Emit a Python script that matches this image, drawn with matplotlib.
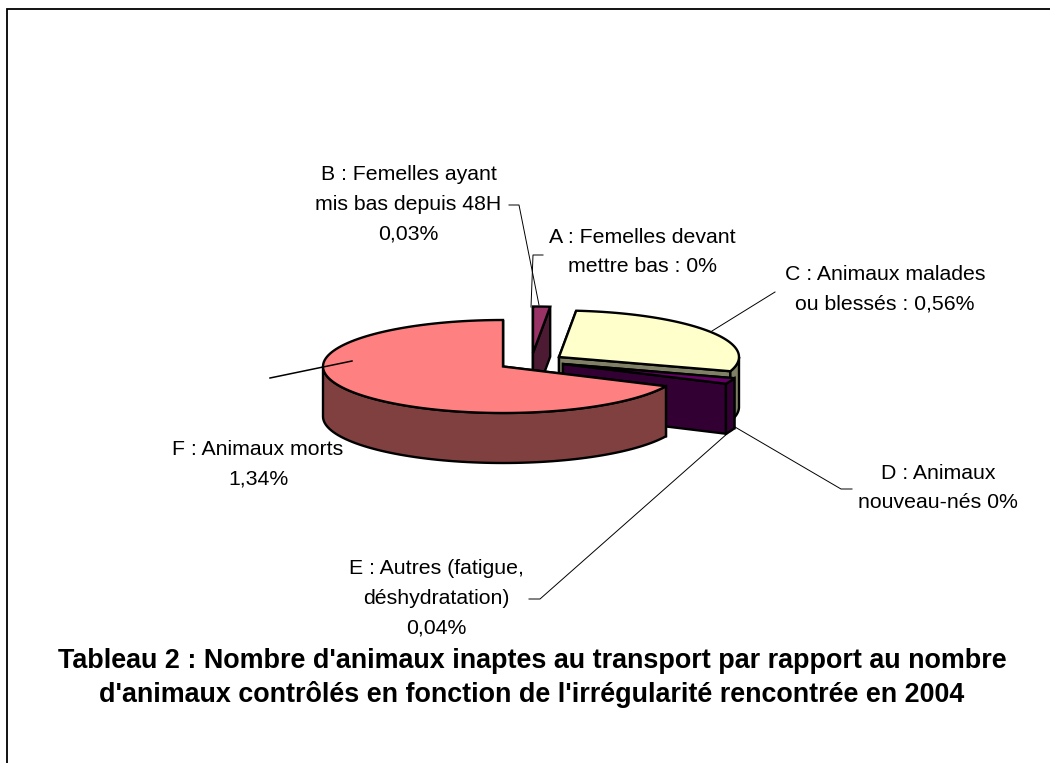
import numpy as np
import matplotlib
matplotlib.use('Agg')
import matplotlib.pyplot as plt

plt.rcParams['font.family'] = ['Liberation Sans', 'DejaVu Sans']

# valeurs en % (dans l'ordre du camembert, sens horaire depuis midi)
categories = ['A', 'B', 'C', 'D', 'E', 'F']
values = [0, 0.03, 0.56, 0, 0.04, 1.34]
top_colors = ['#9999ff', '#993366', '#ffffcc', '#ccffff', '#660066', '#ff8080']
wall_colors = ['#4d4d80', '#4d1a33', '#808066', '#668080', '#330033', '#804040']

# position du centre de chaque part (parts eclatees), en pixels
centers = {'B': (533, 353), 'C': (559, 357), 'E': (563, 364), 'F': (503, 366.5)}
RX = 180
RY = 46.5
DEPTH = 50
LW = 1.7

labels = [
    ('B : Femelles ayant\nmis bas depuis 48H\n0,03%', 408.5, 204),
    ('A : Femelles devant\nmettre bas : 0%', 642, 252),
    ('C : Animaux malades\nou blessés : 0,56%', 885, 289),
    ('D : Animaux\nnouveau-nés 0%', 938, 488),
    ('E : Autres (fatigue,\ndéshydratation)\n0,04%', 436, 598),
    ('F : Animaux morts\n1,34%', 258, 464),
]

# traits de rappel : x, y, epaisseur
leaders = [
    ([509, 519, 539], [205, 205, 305], 0.7),
    ([543, 533, 531], [255, 255, 307], 0.7),
    ([775, 712], [292, 331], 0.7),
    ([852, 841, 735], [489, 489, 427], 0.7),
    ([529, 540, 728], [599, 599, 433], 0.7),
    ([270, 352], [378, 361], 1.1),
]

title = ("Tableau 2 : Nombre d'animaux inaptes au transport par rapport au nombre\n"
         "d'animaux contrôlés en fonction de l'irrégularité rencontrée en 2004")


# point du bord de l'ellipse, angle en degres sens horaire depuis midi
def rim_point(center, angle):
    a = np.radians(angle)
    return center[0] + RX * np.sin(a), center[1] - RY * np.cos(a)


def draw_slice(ax, center, start, end, top, wall, z):
    cx, cy = center
    # faces de coupe
    for ang in (start, end):
        px, py = rim_point(center, ang)
        ax.fill([cx, px, px, cx], [cy, py, py + DEPTH, cy + DEPTH],
                facecolor=wall, edgecolor='black', lw=LW, zorder=z, joinstyle='miter')
    # bord exterieur, partie visible (devant seulement)
    lo, hi = max(start, 90), min(end, 270)
    if hi > lo:
        t = np.linspace(lo, hi, 80)
        xs, ys = rim_point(center, t)
        ax.fill(np.r_[xs, xs[::-1]], np.r_[ys, ys[::-1] + DEPTH],
                facecolor=wall, edgecolor='black', lw=LW, zorder=z + 0.1)
    # dessus
    t = np.linspace(start, end, 120)
    xs, ys = rim_point(center, t)
    ax.fill(np.r_[cx, xs], np.r_[cy, ys], facecolor=top, edgecolor='black',
            lw=LW, zorder=z + 0.2, joinstyle='miter')


fig = plt.figure(figsize=(10.5, 7.63), dpi=100)
ax = fig.add_axes([0, 0, 1, 1])
ax.set_xlim(0, 1050)
ax.set_ylim(763, 0)
ax.axis('off')

# cadre (seuls le haut et la gauche sont visibles)
ax.plot([6.5, 6.5, 1050], [763, 9, 9], color='black', lw=1.3, solid_joinstyle='miter')

total = sum(values)
angle = 0
for i, name in enumerate(categories):
    sweep = values[i] / total * 360
    if sweep > 0:
        draw_slice(ax, centers[name], angle, angle + sweep, top_colors[i], wall_colors[i], i + 2)
    angle += sweep

for xs, ys, lw in leaders:
    ax.plot(xs, ys, color='black', lw=lw, zorder=20)

for txt, x, y in labels:
    ax.text(x, y, txt, ha='center', va='center', fontsize=15.3, color='black',
            linespacing=1.7, zorder=21)

ax.text(532, 678, title, ha='center', va='center', fontsize=19.35, fontweight='bold',
        color='black', linespacing=1.31, zorder=21)

fig.savefig('out.png', dpi=100, facecolor='white')
